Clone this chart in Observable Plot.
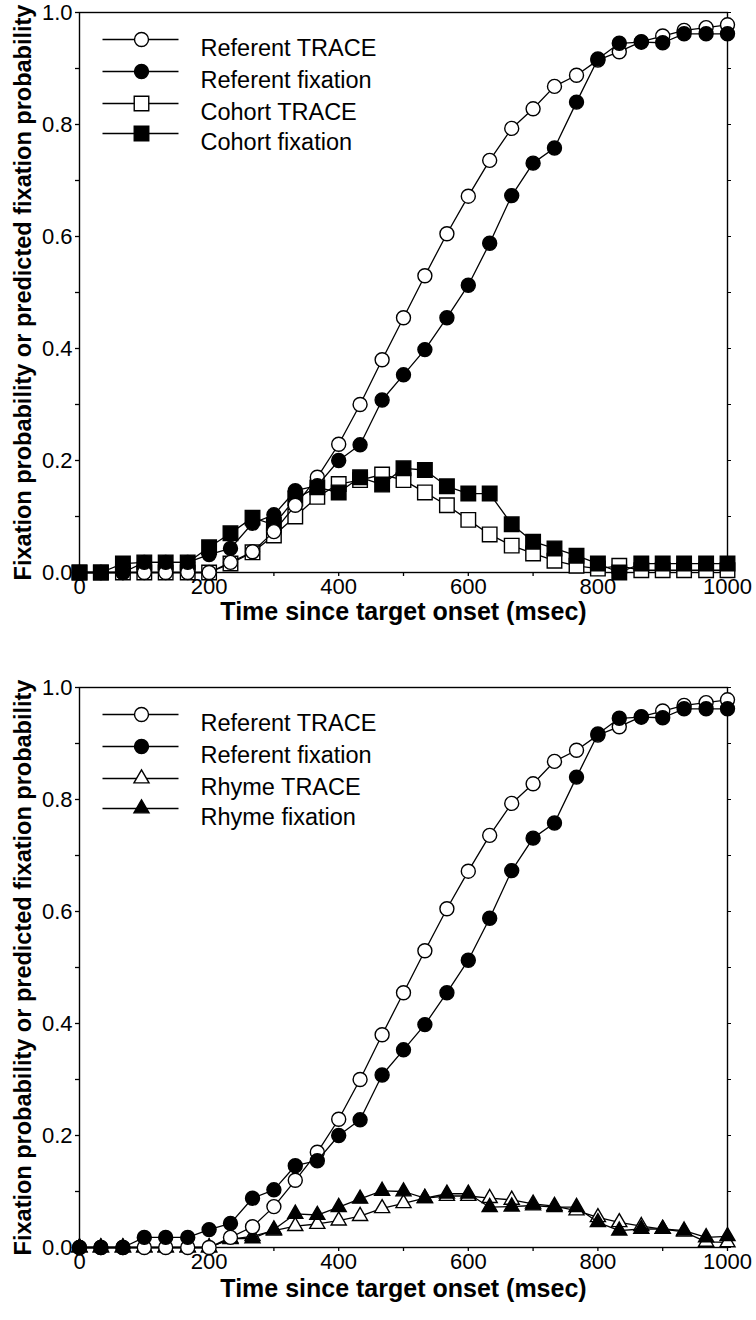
<!DOCTYPE html>
<html><head><meta charset="utf-8">
<script src="https://cdn.jsdelivr.net/npm/d3@7"></script>
<script src="https://cdn.jsdelivr.net/npm/@observablehq/plot@0.6"></script>
<style>
body{margin:0;background:#fff;}
#charts svg{display:block;}
[aria-label="x-axis label"]{font-weight:bold;font-size:25px;}
[aria-label="y-axis label"]{font-weight:bold;font-size:23.5px;}
</style></head><body><div id="charts"></div>
<script>
// ---- data ----
const times = [0,33,67,100,133,167,200,233,267,300,333,367,400,433,467,500,533,567,600,633,667,700,733,767,800,833,867,900,933,967,1000];
const referentTrace    = [0,0,0,0,0,0,0,0.018,0.037,0.073,0.12,0.17,0.229,0.3,0.38,0.455,0.53,0.605,0.672,0.736,0.793,0.828,0.868,0.888,0.915,0.93,0.948,0.958,0.968,0.973,0.978];
const referentFixation = [0,0,0,0.018,0.018,0.018,0.032,0.043,0.088,0.103,0.146,0.155,0.2,0.228,0.308,0.353,0.398,0.455,0.513,0.588,0.673,0.731,0.758,0.84,0.917,0.945,0.947,0.946,0.962,0.962,0.962];
const cohortTrace      = [0,0,0,0,0,0,0,0.016,0.036,0.066,0.1,0.135,0.158,0.165,0.175,0.165,0.143,0.12,0.094,0.068,0.048,0.034,0.021,0.012,0.007,0.012,0.004,0.004,0.004,0.004,0.004];
const cohortFixation   = [0,0,0.016,0.018,0.018,0.018,0.045,0.07,0.098,0.085,0.132,0.152,0.143,0.17,0.157,0.186,0.183,0.154,0.141,0.141,0.086,0.055,0.043,0.03,0.016,0,0.016,0.016,0.016,0.016,0.016];
const rhymeTrace       = [0,0,0,0,0,0,0,0.015,0.02,0.03,0.038,0.042,0.048,0.056,0.07,0.079,0.088,0.092,0.092,0.088,0.085,0.078,0.074,0.066,0.054,0.045,0.038,0.033,0.028,0.01,0.009];
const rhymeFixation    = [0,0,0,0,0,0,0,0.016,0.016,0.032,0.06,0.058,0.072,0.087,0.101,0.1,0.088,0.096,0.096,0.072,0.073,0.075,0.072,0.072,0.045,0.03,0.033,0.033,0.03,0.018,0.02];
const xTicks = [0,100,200,300,400,500,600,700,800,900,1000];
const yTicks = [0,0.1,0.2,0.3,0.4,0.5,0.6,0.7,0.8,0.9,1.0];
const xLabel = "Time since target onset (msec)";
const yLabel = "Fixation probability or predicted fixation probability";

// ---- styles ----
const sty = {
  openCircle:   {symbol:"circle",   r:7,   fill:"white"},
  filledCircle: {symbol:"circle",   r:7,   fill:"black"},
  openSquare:   {symbol:"square",   r:8.2, fill:"white"},
  filledSquare: {symbol:"square",   r:8.2, fill:"black"},
  openTri:      {symbol:"triangle", r:5.6, fill:"white"},
  filledTri:    {symbol:"triangle", r:5.6, fill:"black"}
};
const legendDy = [27, 59, 91, 121];
const legendLine = {draw(ctx){ ctx.moveTo(-38,0); ctx.lineTo(38,0); }};

function panel(drawOrder, legendOrder, o) {
  const marks = [
    Plot.frame({stroke:"black", strokeWidth:1.4}),
    Plot.axisX({ticks:xTicks, tickFormat:d => d % 200 === 0 ? String(d) : "", tickSize:4, tickPadding:2,
      strokeWidth:1.3, label:xLabel, labelAnchor:"center", labelArrow:"none", labelOffset:o.xLabelOffset}),
    Plot.axisY({ticks:yTicks, tickFormat:d => Math.round(d*10) % 2 === 0 ? d.toFixed(1) : "", tickSize:4, tickPadding:3,
      strokeWidth:1.3, label:yLabel, labelAnchor:"center", labelArrow:"none", labelOffset:65}),
    Plot.axisY({anchor:"right", ticks:yTicks, tickFormat:() => "", tickSize:3, label:null})
  ];
  for (const s of drawOrder) {
    const data = times.map((t,i) => ({t, v:s.values[i]}));
    marks.push(Plot.line(data, {x:"t", y:"v", stroke:"black", strokeWidth:1.3}));
    marks.push(Plot.dot(data, {x:"t", y:"v", symbol:s.style.symbol, r:s.style.r, fill:s.style.fill, stroke:"black", strokeWidth:1.4}));
  }
  legendOrder.forEach((s, k) => {
    const dy = legendDy[k];
    marks.push(Plot.dot([0], {frameAnchor:"top-left", dx:61, dy, symbol:legendLine, r:1, fill:"none", stroke:"black", strokeWidth:1.3}));
    marks.push(Plot.dot([0], {frameAnchor:"top-left", dx:62, dy, symbol:s.style.symbol, r:s.style.r, fill:s.style.fill, stroke:"black", strokeWidth:1.4}));
    marks.push(Plot.text([s.name], {frameAnchor:"top-left", dx:121, dy, text:d => d, textAnchor:"start", fontSize:23.5}));
  });
  return Plot.plot({
    width:756, height:o.height, marginTop:o.marginTop, marginBottom:o.marginBottom, marginLeft:79, marginRight:29,
    x:{domain:[0,1000], labelArrow:"none"}, y:{domain:[0,1], labelArrow:"none"},
    style:{fontFamily:"'Liberation Sans', Arial, sans-serif", fontSize:"22px", color:"black", background:"white"},
    marks
  });
}

const sRefT = {name:"Referent TRACE",    values:referentTrace,    style:sty.openCircle};
const sRefF = {name:"Referent fixation", values:referentFixation, style:sty.filledCircle};
const sCohT = {name:"Cohort TRACE",      values:cohortTrace,      style:sty.openSquare};
const sCohF = {name:"Cohort fixation",   values:cohortFixation,   style:sty.filledSquare};
const sRhyT = {name:"Rhyme TRACE",       values:rhymeTrace,       style:sty.openTri};
const sRhyF = {name:"Rhyme fixation",    values:rhymeFixation,    style:sty.filledTri};

const root = document.getElementById("charts");
root.append(panel([sCohT, sCohF, sRefT, sRefF], [sRefT, sRefF, sCohT, sCohF],
  {height:650, marginTop:12, marginBottom:78, xLabelOffset:47}));
root.append(panel([sRhyT, sRhyF, sRefT, sRefF], [sRefT, sRefF, sRhyT, sRhyF],
  {height:670, marginTop:37, marginBottom:73, xLabelOffset:49}));
</script></body></html>
